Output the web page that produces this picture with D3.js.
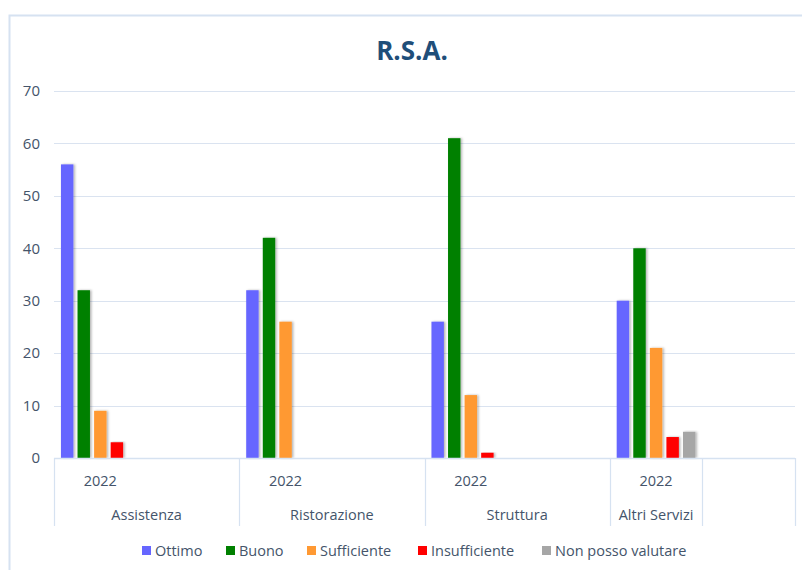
<!doctype html>
<html>
  <head>
    <meta charset="utf-8">
    <script src="https://cdnjs.cloudflare.com/ajax/libs/d3/7.8.5/d3.min.js"></script>
    <style>
      body { margin: 0; background: #fff; }
      text { font-family: "Open Sans", "Noto Sans", sans-serif; fill: #44546A; }
      .grid line { stroke: #dae3f0; stroke-width: 1; }
      .title { font-weight: bold; fill: #1F4E79; font-size: 26px; }
    </style>
  </head>
  <body>
    <div id="chart"></div>
    <script>
      var width = 802, height = 570;

      // data
      var categories = ["Assistenza", "Ristorazione", "Struttura", "Altri Servizi"];
      var subLabel = "2022";
      var series = ["Ottimo", "Buono", "Sufficiente", "Insufficiente", "Non posso valutare"];
      var colors = ["#6666FF", "#008000", "#FF9933", "#FF0000", "#A6A6A6"];
      var ottimo = [56, 32, 26, 30];
      var buono = [32, 42, 61, 40];
      var sufficiente = [9, 26, 12, 21];
      var insufficiente = [3, 0, 1, 4];
      var nonPosso = [0, 0, 0, 5];
      var yTicks = [0, 10, 20, 30, 40, 50, 60, 70];

      var values = [ottimo, buono, sufficiente, insufficiente, nonPosso];

      var svg = d3.select("#chart").append("svg")
          .attr("width", width)
          .attr("height", height);

      var defs = svg.append("defs");
      var f = defs.append("filter").attr("id", "shadow")
          .attr("x", "-30%").attr("y", "-5%").attr("width", "170%").attr("height", "115%");
      f.append("feDropShadow").attr("dx", 1.5).attr("dy", 0).attr("stdDeviation", 1)
          .attr("flood-color", "#000").attr("flood-opacity", 0.3);

      // frame
      svg.append("path")
          .attr("d", "M9.5,570 L9.5,15.5 L802,15.5")
          .attr("fill", "none").attr("stroke", "#d6e2f1").attr("stroke-width", 2);

      svg.append("text").attr("class", "title")
          .attr("x", 412).attr("y", 60)
          .attr("text-anchor", "middle")
          .text("R.S.A.");

      var plotL = 54, plotR = 795, plotT = 91, plotB = 458;

      var y = d3.scaleLinear().domain([0, 70]).range([plotB, plotT]);

      // each category has the 2022 slot plus an empty slot
      var slots = [];
      categories.forEach(function(c, i) { slots.push(i + "a"); slots.push(i + "b"); });
      var xSlot = d3.scaleBand().domain(slots).range([plotL, plotR]);
      var xSeries = d3.scaleBand().domain(series).range([0, xSlot.bandwidth()])
          .paddingInner(0.25).paddingOuter(0.42);

      // grid
      svg.append("g").attr("class", "grid")
        .selectAll("line").data(yTicks.filter(function(d) { return d > 0; }))
        .enter().append("line")
          .attr("x1", plotL).attr("x2", plotR)
          .attr("y1", function(d) { return Math.round(y(d)) + 0.5; })
          .attr("y2", function(d) { return Math.round(y(d)) + 0.5; });

      // y axis labels
      var yAxis = d3.axisLeft(y).tickValues(yTicks).tickSize(0).tickPadding(14);
      var ya = svg.append("g").attr("transform", "translate(" + plotL + ",0)").call(yAxis);
      ya.select(".domain").remove();
      ya.selectAll("text").style("font-size", "15px").attr("fill", "#44546A")
          .style("font-family", "\"Open Sans\", sans-serif");

      // bars
      series.forEach(function(s, si) {
        var pts = values[si].map(function(v, ci) { return { v: v, c: ci }; })
            .filter(function(d) { return d.v > 0; });
        svg.append("g")
          .selectAll("rect").data(pts)
          .enter().append("rect")
            .attr("x", function(d) { return xSlot(d.c + "a") + xSeries(s); })
            .attr("y", function(d) { return y(d.v); })
            .attr("width", xSeries.bandwidth())
            .attr("height", function(d) { return plotB - y(d.v); })
            .attr("fill", colors[si])
            .attr("filter", "url(#shadow)");
      });

      // x axis line
      svg.append("line")
          .attr("x1", plotL).attr("x2", plotR)
          .attr("y1", plotB + 0.5).attr("y2", plotB + 0.5)
          .attr("stroke", "#d6e2f1").attr("stroke-width", 1.5);

      // dividers
      var divs = categories.map(function(c, i) { return xSlot(i + "a"); });
      divs.push(xSlot((categories.length - 1) + "b"));
      divs.push(plotR);
      svg.append("g").selectAll("line").data(divs).enter().append("line")
          .attr("x1", function(d) { return Math.round(d) + 0.5; })
          .attr("x2", function(d) { return Math.round(d) + 0.5; })
          .attr("y1", plotB).attr("y2", 526)
          .attr("stroke", "#d6e2f1").attr("stroke-width", 1.2);

      // sub labels
      svg.append("g").selectAll("text").data(categories).enter().append("text")
          .attr("x", function(d, i) { return xSlot(i + "a") + xSlot.bandwidth() / 2; })
          .attr("y", 486)
          .attr("text-anchor", "middle")
          .style("font-size", "14.5px")
          .text(subLabel);

      // category labels
      svg.append("g").selectAll("text").data(categories).enter().append("text")
          .attr("x", function(d, i) {
            if (i === categories.length - 1) return xSlot(i + "a") + xSlot.bandwidth() / 2;
            return xSlot(i + "a") + xSlot.bandwidth();
          })
          .attr("y", 520)
          .attr("text-anchor", "middle")
          .style("font-size", "14.5px")
          .text(function(d) { return d; });

      // legend
      var legendX = [142, 226, 307, 418, 542];
      var lg = svg.append("g").selectAll("g").data(series).enter().append("g")
          .attr("transform", function(d, i) { return "translate(" + legendX[i] + ",546)"; });
      lg.append("rect").attr("width", 9).attr("height", 9)
          .attr("fill", function(d, i) { return colors[i]; });
      lg.append("text").attr("x", 13).attr("y", 10)
          .style("font-size", "14.5px")
          .text(function(d) { return d; });
    </script>
  </body>
</html>
